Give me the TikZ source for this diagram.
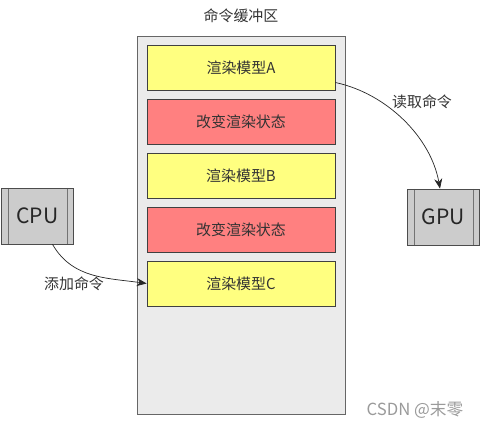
\documentclass[tikz,border=0pt]{standalone}
\usepackage{fontspec}
\setmainfont{Noto Sans CJK SC}
\usetikzlibrary{arrows.meta,positioning,calc}
\definecolor{slotyel}{HTML}{FFFF80}
\definecolor{slotred}{HTML}{FF8080}
\definecolor{bufgray}{HTML}{EBEBEB}
\definecolor{chipgray}{HTML}{CCCCCC}
\definecolor{txt}{HTML}{333333}
\definecolor{wmark}{HTML}{9A9A9A}

\tikzset{
  slot/.style={draw=black!75,minimum width=3.76cm,minimum height=0.9cm,
               font=\fontsize{8.5}{10}\selectfont,text=txt},
  chip/.style={draw=black!70,fill=chipgray,minimum width=1.44cm,minimum height=1.12cm,
               font=\fontsize{12}{14}\selectfont,text=black!85,
               path picture={
                 \draw[black!55] ([xshift=0.13cm]path picture bounding box.north west)
                    -- ([xshift=0.13cm]path picture bounding box.south west);
                 \draw[black!55] ([xshift=-0.13cm]path picture bounding box.north east)
                    -- ([xshift=-0.13cm]path picture bounding box.south east);}},
  lbl/.style={font=\fontsize{8.5}{10}\selectfont,text=txt},
  cmdarrow/.style={-{Stealth[length=2mm,width=1.6mm]},black!85,thin}
}

\begin{document}
\begin{tikzpicture}[x=0.02cm,y=-0.02cm]
  \useasboundingbox (0,0) rectangle (484,428);

  % command buffer
  \node[draw=black!60,fill=bufgray,minimum width=4.16cm,minimum height=7.56cm]
    (buf) at (241,225) {};
  \node[lbl,above=0.13cm of buf.north] (buftitle) {命令缓冲区};

  \foreach \i/\c/\t in {1/slotyel/{渲染模型A},2/slotred/{改变渲染状态},
                        3/slotyel/{渲染模型B},4/slotred/{改变渲染状态},
                        5/slotyel/{渲染模型C}}{
    \node[slot,fill=\c] (s\i) at (241,13.5+\i*54) {\t};
  }

  % processors
  \node[chip] (cpu) at (37.5,216) {CPU};
  \node[chip] (gpu) at (443.5,217) {GPU};

  \draw[cmdarrow] ([xshift=0.3cm]cpu.south) to[out=-60,in=172] (s5.west);
  \node[lbl] (addcmd) at (74,284) {添加命令};

  \draw[cmdarrow] ([yshift=-0.3cm]s1.east) to[out=-12,in=100,looseness=0.9] ([xshift=-0.07cm]gpu.north);
  \node[lbl] (readcmd) at (422,102) {读取命令};

  \node[font=\fontsize{9.5}{11}\selectfont,text=wmark] (wm) at (415,410) {CSDN @末零};
\end{tikzpicture}
\end{document}
